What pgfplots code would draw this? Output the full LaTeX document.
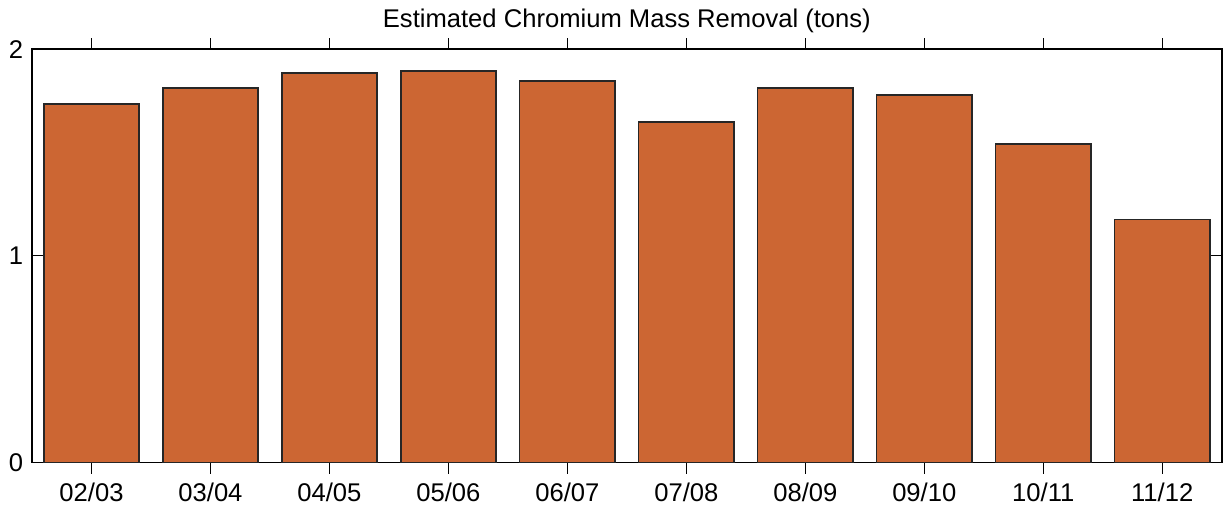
\documentclass[border=0pt]{standalone}
\usepackage{fontspec}
\setmainfont{Liberation Sans}
\usepackage{pgfplots}
\pgfplotsset{compat=1.18}
\definecolor{barcol}{RGB}{204,102,51}
\begin{document}
\fontsize{12.8}{15}\selectfont
\begin{tikzpicture}
\begin{axis}[
  width=594.85pt, height=206.65pt, scale only axis,
  xmin=-0.5, xmax=9.5, ymin=0, ymax=2,
  xtick={0,...,9},
  xticklabels={02/03,03/04,04/05,05/06,06/07,07/08,08/09,09/10,10/11,11/12},
  ytick={0,1,2},
  tick align=inside, major tick length=5.5pt,
  tick pos=both,
  axis line style={line width=0.9pt},
  every tick/.style={line width=0.6pt, black},
  /pgf/number format/assume math mode=true,
  tick label style={font=\fontsize{12.8}{15}\selectfont},
  xticklabel style={anchor=base, inner sep=0pt, yshift=-14pt},
  title={Estimated Chromium Mass Removal (tons)},
  title style={font=\fontsize{12.8}{15}\selectfont, at={(0.5,1)}, anchor=base, inner sep=0pt, yshift=4.7pt},
  ybar, bar width=0.8,
]
\addplot[fill=barcol, draw=black!85, line width=0.7pt] coordinates {
  (0,1.735) (1,1.812) (2,1.884) (3,1.894) (4,1.846)
  (5,1.648) (6,1.812) (7,1.778) (8,1.542) (9,1.176)
};
\end{axis}
\path (current axis.south west)+(-16pt,-21pt) (current axis.north east)+(1.15pt,24.6pt);
\end{tikzpicture}
\end{document}
